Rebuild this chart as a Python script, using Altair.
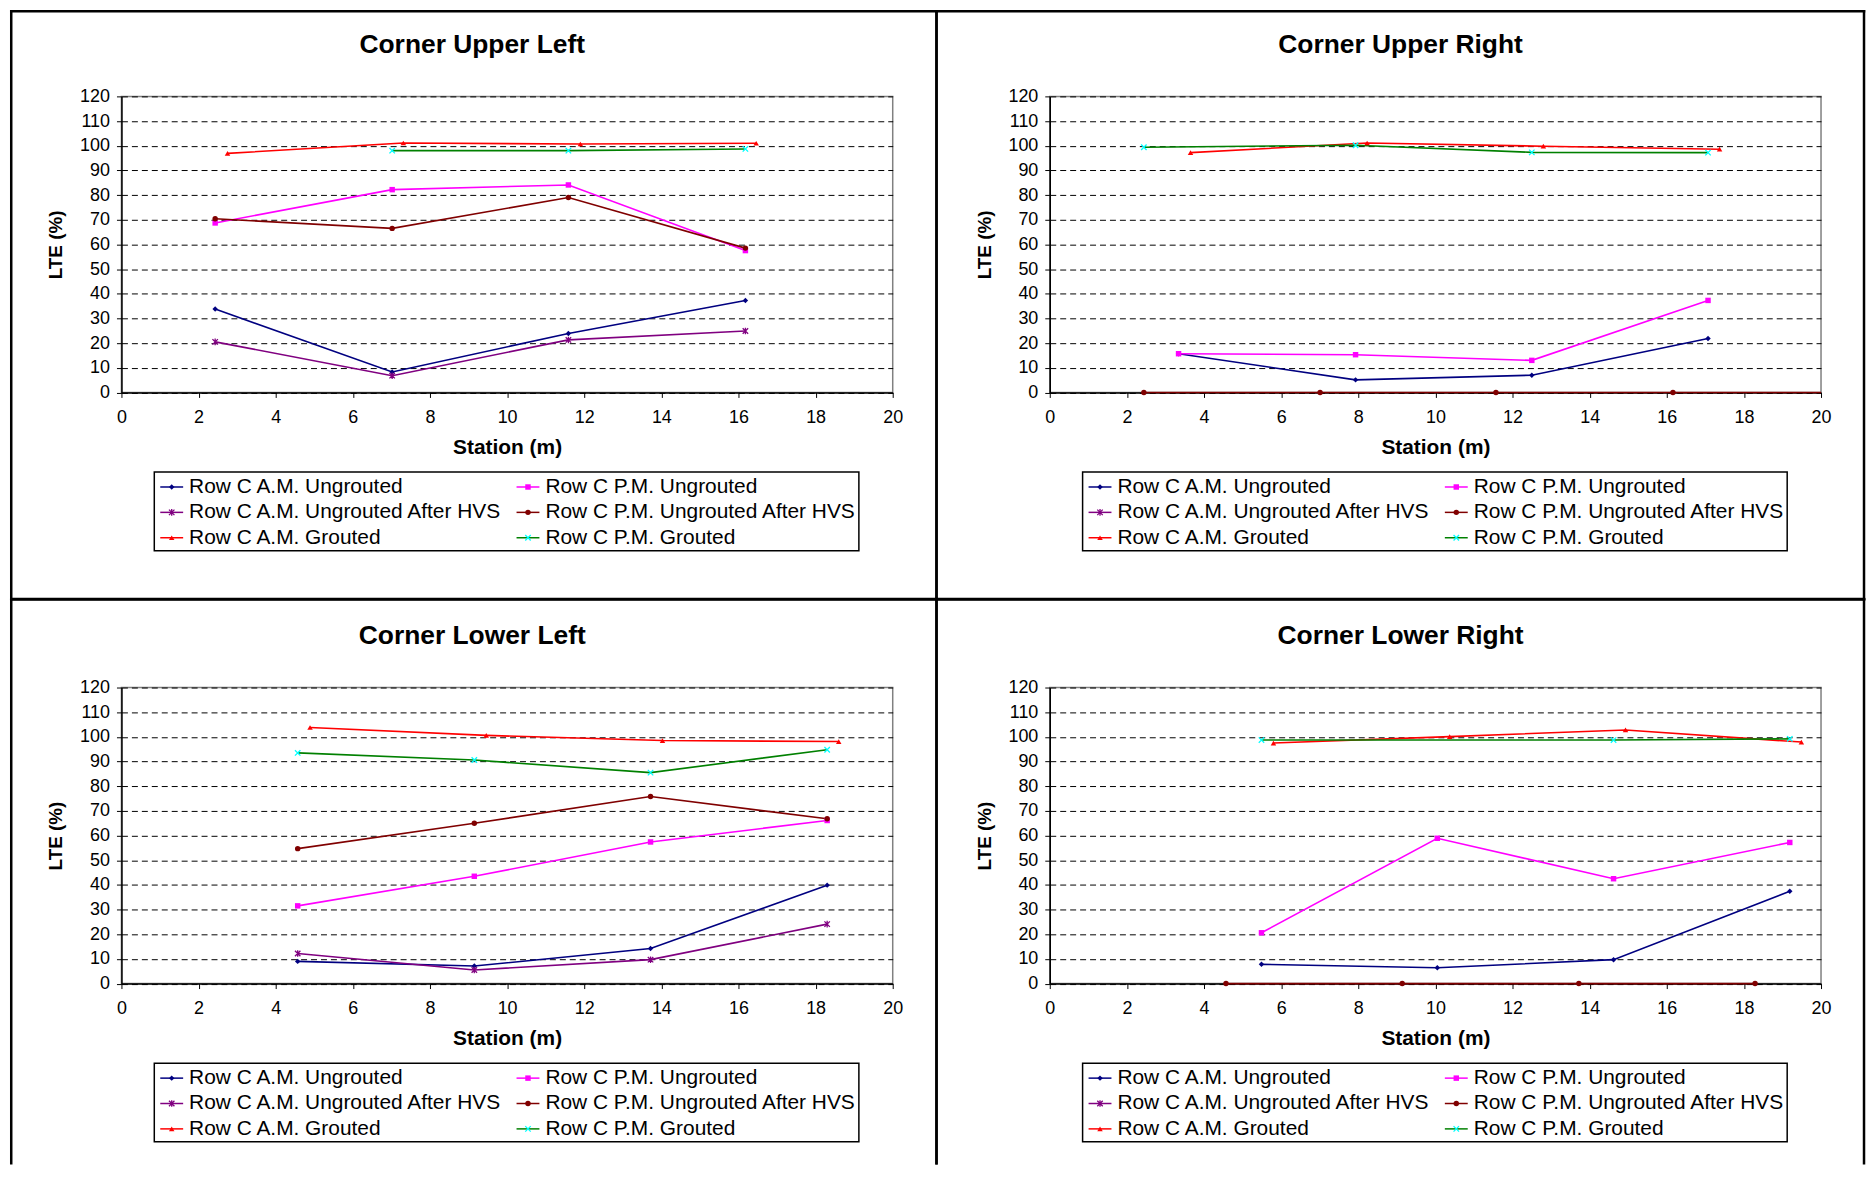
import altair as alt
import pandas as pd

# ---------------- series definitions ----------------
SERIES = [
    "Row C A.M. Ungrouted",
    "Row C P.M. Ungrouted",
    "Row C A.M. Ungrouted After HVS",
    "Row C P.M. Ungrouted After HVS",
    "Row C A.M. Grouted",
    "Row C P.M. Grouted",
]
LINE_COLORS = ["#000080", "#FF00FF", "#800080", "#800000", "#FF0000", "#008000"]
MARKER_COLORS = ["#000080", "#FF00FF", "#800080", "#800000", "#FF0000", "#00FFFF"]
ASTERISK = "M-1,-1L1,1M-1,1L1,-1M0,-1.2L0,1.2"
XMARK = "M-1,-1L1,1M-1,1L1,-1"
MARKER_SHAPES = ["diamond", "square", ASTERISK, "circle", "triangle-up", XMARK]
FILLED_MARKERS = [True, True, False, True, True, False]

TITLES = ["Corner Upper Left", "Corner Upper Right", "Corner Lower Left", "Corner Lower Right"]
X_TITLE = "Station (m)"
Y_TITLE = "LTE (%)"
X_TICKS = list(range(0, 21, 2))
Y_TICKS = list(range(0, 121, 10))

# ---------------- Corner Upper Left ----------------
UL_X = [2.43, 7.02, 11.59, 16.18]
UL_X_AM_GROUTED = [2.75, 7.31, 11.90, 16.46]
UL_X_PM_GROUTED = [7.02, 11.59, 16.18]
UL_AM_UNGROUTED = [33.8, 8.3, 23.9, 37.3]
UL_PM_UNGROUTED = [68.7, 82.2, 84.1, 57.5]
UL_AM_HVS = [20.5, 6.8, 21.3, 24.9]
UL_PM_HVS = [70.4, 66.5, 79.0, 58.5]
UL_AM_GROUTED = [96.9, 101.1, 100.7, 101.0]
UL_PM_GROUTED = [98.0, 98.0, 98.7]

# ---------------- Corner Upper Right ----------------
UR_X = [3.34, 7.93, 12.50, 17.07]
UR_X_PM_HVS = [2.44, 7.01, 11.57, 16.16]
UR_X_AM_GROUTED = [3.65, 8.23, 12.80, 17.37]
UR_X_PM_GROUTED = [2.44, 7.93, 12.50, 17.07]
UR_AM_UNGROUTED = [15.7, 5.1, 7.0, 21.9]
UR_PM_UNGROUTED = [15.7, 15.3, 13.0, 37.3]
UR_PM_HVS = [0, 0, 0, 0]
UR_PM_HVS_TAIL_X = [20.0]   # the line runs on to the right edge, no marker
UR_PM_HVS_TAIL = [0]
UR_AM_GROUTED = [97.2, 101.1, 99.8, 98.6]
UR_PM_GROUTED = [99.4, 100.2, 97.3, 97.2]

# ---------------- Corner Lower Left ----------------
LL_X = [4.57, 9.15, 13.72, 18.30]
LL_X_AM_GROUTED = [4.89, 9.46, 14.03, 18.60]
LL_AM_UNGROUTED = [9.0, 7.1, 14.2, 39.9]
LL_PM_UNGROUTED = [31.5, 43.5, 57.4, 66.1]
LL_AM_HVS = [12.2, 5.5, 9.7, 24.1]
LL_PM_HVS = [54.7, 65.0, 75.8, 66.8]
LL_AM_GROUTED = [103.8, 100.6, 98.5, 98.1]
LL_PM_GROUTED = [93.5, 90.6, 85.5, 94.8]

# ---------------- Corner Lower Right ----------------
LR_X = [5.49, 10.05, 14.62, 19.19]
LR_X_PM_HVS = [4.57, 9.14, 13.72, 18.29]
LR_X_AM_GROUTED = [5.80, 10.37, 14.93, 19.49]
LR_X_PM_GROUTED = [5.49, 14.62, 19.19]
LR_AM_UNGROUTED = [7.8, 6.4, 9.7, 37.4]
LR_PM_UNGROUTED = [20.6, 58.9, 42.5, 57.2]
LR_PM_HVS = [0, 0, 0, 0]
LR_AM_GROUTED = [97.5, 100.1, 102.8, 97.9]
LR_PM_GROUTED = [98.7, 98.7, 99.2]

PANELS = [
    [(0, UL_X, UL_AM_UNGROUTED), (1, UL_X, UL_PM_UNGROUTED), (2, UL_X, UL_AM_HVS),
     (3, UL_X, UL_PM_HVS), (4, UL_X_AM_GROUTED, UL_AM_GROUTED), (5, UL_X_PM_GROUTED, UL_PM_GROUTED)],
    [(0, UR_X, UR_AM_UNGROUTED), (1, UR_X, UR_PM_UNGROUTED),
     (3, UR_X_PM_HVS, UR_PM_HVS, UR_PM_HVS_TAIL_X, UR_PM_HVS_TAIL),
     (4, UR_X_AM_GROUTED, UR_AM_GROUTED), (5, UR_X_PM_GROUTED, UR_PM_GROUTED)],
    [(0, LL_X, LL_AM_UNGROUTED), (1, LL_X, LL_PM_UNGROUTED), (2, LL_X, LL_AM_HVS),
     (3, LL_X, LL_PM_HVS), (4, LL_X_AM_GROUTED, LL_AM_GROUTED), (5, LL_X, LL_PM_GROUTED)],
    [(0, LR_X, LR_AM_UNGROUTED), (1, LR_X, LR_PM_UNGROUTED), (3, LR_X_PM_HVS, LR_PM_HVS),
     (4, LR_X_AM_GROUTED, LR_AM_GROUTED), (5, LR_X_PM_GROUTED, LR_PM_GROUTED)],
]

# ---------------- styling / layout ----------------
FONT = "Liberation Sans"
W, H = 775, 297.5
COL_GAP, ROW_GAP = 157.8, 296.0

# frame edges relative to each panel's plot area: (left, right, top, bottom)
FRAMES = [
    (-110.75, 819.0, -85.5, 505.0),
    (-113.8, 818.2, -85.5, 505.0),
    (-110.75, 819.0, -88.5, 478.0),
    (-113.8, 818.2, -88.5, 478.0),
]
BOTTOM_EDGE = [True, True, False, False]

color_scale = alt.Scale(domain=SERIES, range=LINE_COLORS)
fill_scale = alt.Scale(domain=SERIES, range=MARKER_COLORS)
stroke_scale = alt.Scale(domain=SERIES, range=MARKER_COLORS)
shape_scale = alt.Scale(domain=SERIES, range=MARKER_SHAPES)

x_enc = alt.X(
    "x:Q",
    scale=alt.Scale(domain=[0, 20], nice=False, zero=False),
    axis=alt.Axis(values=X_TICKS, title=X_TITLE, grid=False, tickSize=5,
                  labelPadding=20, labelBaseline="middle", labelFlush=False,
                  titleX=W / 2, titleY=55, titleBaseline="middle",
                  titleFontSize=21, titleFontWeight="bold"),
)
y_enc = alt.Y(
    "y:Q",
    scale=alt.Scale(domain=[0, 120], nice=False),
    axis=alt.Axis(values=Y_TICKS, title=Y_TITLE, grid=True, gridDash=[6, 4],
                  gridColor="black", gridWidth=1, tickSize=5, labelPadding=7,
                  labelFlush=False,
                  titleX=-66, titleY=H / 2, titleBaseline="middle", titleAlign="center",
                  titleFontSize=19, titleFontWeight="bold"),
)

# legend layout (in pixels relative to plot area)
leg_x = alt.X("lcol:Q", scale=alt.Scale(domain=[0, 1], range=[39, 397], zero=False, nice=False), axis=None)
leg_y = alt.Y("lrow:Q", scale=alt.Scale(domain=[0, 2], range=[392.5, 443.5], zero=False, nice=False), axis=None)

one = pd.DataFrame({"k": [0]})


def build_panel(p):
    entries = PANELS[p]
    line_rows, pt_rows = [], []
    for e in entries:
        idx, xs, ys = e[0], e[1], e[2]
        for xv, yv in zip(xs, ys):
            line_rows.append({"series": SERIES[idx], "x": xv, "y": yv})
            pt_rows.append({"series": SERIES[idx], "x": xv, "y": yv, "filled": FILLED_MARKERS[idx]})
        if len(e) > 3:
            for xv, yv in zip(e[3], e[4]):
                line_rows.append({"series": SERIES[idx], "x": xv, "y": yv})
    ldf = pd.DataFrame(line_rows)
    pdf = pd.DataFrame(pt_rows)

    lines = alt.Chart(ldf).mark_line(strokeWidth=1.6).encode(
        x=x_enc, y=y_enc, color=alt.Color("series:N", scale=color_scale, legend=None))
    fpts = alt.Chart(pdf[pdf["filled"]]).mark_point(filled=True, size=30, opacity=1).encode(
        x=x_enc, y=y_enc,
        fill=alt.Fill("series:N", scale=fill_scale, legend=None),
        shape=alt.Shape("series:N", scale=shape_scale, legend=None))
    spts = alt.Chart(pdf[~pdf["filled"]]).mark_point(filled=False, size=30, strokeWidth=1.3, opacity=1).encode(
        x=x_enc, y=y_enc,
        stroke=alt.Stroke("series:N", scale=stroke_scale, legend=None),
        shape=alt.Shape("series:N", scale=shape_scale, legend=None))
    data_group = alt.layer(lines, fpts, spts)

    # custom legend
    legdf = pd.DataFrame({
        "series": SERIES,
        "lcol": [i % 2 for i in range(len(SERIES))],
        "lrow": [i // 2 for i in range(len(SERIES))],
        "filled": FILLED_MARKERS,
    })
    box = alt.Chart(one).mark_rect(fillOpacity=0, stroke="black", strokeWidth=1.5).encode(
        x=alt.value(33), x2=alt.value(741), y=alt.value(377.5), y2=alt.value(456.5))
    lrule = alt.Chart(legdf).mark_rule(strokeWidth=1.5, x2Offset=23).encode(
        x=leg_x, x2=alt.X2("lcol:Q"), y=leg_y,
        color=alt.Color("series:N", scale=color_scale, legend=None))
    lfp = alt.Chart(legdf[legdf["filled"]]).mark_point(filled=True, size=30, opacity=1, xOffset=11.5).encode(
        x=leg_x, y=leg_y,
        fill=alt.Fill("series:N", scale=fill_scale, legend=None),
        shape=alt.Shape("series:N", scale=shape_scale, legend=None))
    lsp = alt.Chart(legdf[~legdf["filled"]]).mark_point(filled=False, size=30, strokeWidth=1.3, opacity=1, xOffset=11.5).encode(
        x=leg_x, y=leg_y,
        stroke=alt.Stroke("series:N", scale=stroke_scale, legend=None),
        shape=alt.Shape("series:N", scale=shape_scale, legend=None))
    ltext = alt.Chart(legdf).mark_text(align="left", baseline="middle", dx=29, fontSize=21,
                                       font=FONT, color="black").encode(
        x=leg_x, y=leg_y, text="series:N")
    legend_group = alt.layer(lrule, lfp, lsp, ltext)

    # title and frame
    title = alt.Chart(one).mark_text(text=TITLES[p], fontSize=26.5, fontWeight="bold", font=FONT,
                                     align="center", baseline="middle", color="black").encode(
        x=alt.value(352.5), y=alt.value(-52))
    left, right, top, bottom = FRAMES[p]
    fr = dict(strokeWidth=2.5, color="black", strokeCap="square")
    edges = [
        alt.Chart(one).mark_rule(**fr).encode(x=alt.value(left), y=alt.value(top), y2=alt.value(bottom)),
        alt.Chart(one).mark_rule(**fr).encode(x=alt.value(right), y=alt.value(top), y2=alt.value(bottom)),
        alt.Chart(one).mark_rule(**fr).encode(x=alt.value(left), x2=alt.value(right), y=alt.value(top)),
    ]
    if BOTTOM_EDGE[p]:
        edges.append(alt.Chart(one).mark_rule(**fr).encode(
            x=alt.value(left), x2=alt.value(right), y=alt.value(bottom)))

    return alt.layer(data_group, legend_group, box, title, *edges).resolve_scale(
        x="independent", y="independent").properties(width=W, height=H)


panels = [build_panel(i) for i in range(4)]

chart = alt.concat(
    *panels, columns=2, spacing={"row": ROW_GAP, "column": COL_GAP}, bounds="flush"
).properties(
    padding={"left": 0, "top": -3, "right": 0, "bottom": 0}
).configure_view(
    stroke="#808080", strokeWidth=1.5
).configure_axis(
    labelFont=FONT, titleFont=FONT, labelFontSize=18, labelColor="black",
    titleColor="black", domainColor="black", tickColor="black", domainWidth=1.5,
)

chart.save("out.html", embed_options={"renderer": "svg", "actions": False})
